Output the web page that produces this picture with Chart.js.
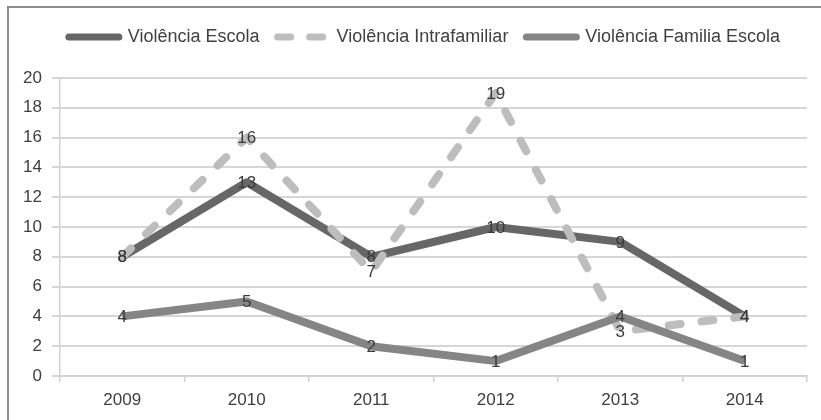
<!DOCTYPE html>
<html>
<head>
<meta charset="utf-8">
<script src="https://cdn.jsdelivr.net/npm/chart.js@4"></script>
<style>
  html, body { margin: 0; padding: 0; background: #fff; }
  #wrap { position: relative; width: 821px; height: 420px; }
</style>
</head>
<body>
<div id="wrap"><canvas id="chart" width="821" height="420"></canvas></div>
<script>
// Data
const years = ['2009', '2010', '2011', '2012', '2013', '2014'];
const violenciaEscola = [8, 13, 8, 10, 9, 4];
const violenciaIntrafamiliar = [8, 16, 7, 19, 3, 4];
const violenciaFamiliaEscola = [4, 5, 2, 1, 4, 1];
const yTicks = [0, 2, 4, 6, 8, 10, 12, 14, 16, 18, 20];

const FONT = '"Liberation Sans", Arial, sans-serif';

// outer frame (left + top edge only visible)
const framePlugin = {
    id: 'frame',
    beforeDraw(chart) {
        const ctx = chart.ctx;
        ctx.save();
        ctx.strokeStyle = '#8c8c8c';
        ctx.lineWidth = 2;
        ctx.beginPath();
        ctx.moveTo(8, 420);
        ctx.lineTo(8, 7);
        ctx.lineTo(821, 7);
        ctx.stroke();
        ctx.restore();
    }
};

// numbers written on each point
const valueLabels = {
    id: 'valueLabels',
    afterDatasetsDraw(chart) {
        const ctx = chart.ctx;
        ctx.save();
        ctx.font = '17px ' + FONT;
        ctx.fillStyle = '#3a3a3a';
        ctx.textAlign = 'center';
        ctx.textBaseline = 'middle';
        chart.data.datasets.forEach((ds, i) => {
            chart.getDatasetMeta(i).data.forEach((pt, j) => {
                ctx.fillText(ds.data[j], pt.x, pt.y + 1);
            });
        });
        ctx.restore();
    }
};

// fixed legend height so the plot starts where the reference does,
// and nudge the legend row a bit to the right
const legendBox = {
    id: 'legendBox',
    beforeInit(chart) {
        const fit = chart.legend.fit;
        chart.legend.fit = function () {
            fit.call(this);
            this.height = 68;
        };
    },
    afterLayout(chart) {
        chart.legend.left += 42;
    }
};

function lineSet(label, data, color, order, dash) {
    return {
        label: label,
        data: data,
        borderColor: color,
        backgroundColor: color,
        borderWidth: 8,
        borderDash: dash || [],
        borderCapStyle: dash ? 'round' : 'butt',
        borderJoinStyle: 'round',
        tension: 0,
        pointRadius: 0,
        order: order
    };
}

new Chart(document.getElementById('chart'), {
    type: 'line',
    data: {
        labels: years,
        datasets: [
            lineSet('Violência Escola', violenciaEscola, '#676767', 3),
            lineSet('Violência Intrafamiliar', violenciaIntrafamiliar, '#bdbdbd', 2, [12, 21]),
            lineSet('Violência Familia Escola', violenciaFamiliaEscola, '#858585', 1)
        ]
    },
    options: {
        responsive: false,
        animation: false,
        layout: { padding: { top: 10, right: 14, left: 0, bottom: 0 } },
        plugins: {
            legend: {
                display: true,
                position: 'top',
                labels: {
                    usePointStyle: true,
                    pointStyle: 'line',
                    pointStyleWidth: 50,
                    padding: 18,
                    color: '#404040',
                    font: { family: FONT, size: 18 },
                    sort: (a, b) => a.datasetIndex - b.datasetIndex,
                    generateLabels(chart) {
                        const items = Chart.defaults.plugins.legend.labels.generateLabels(chart);
                        items.forEach(it => {
                            const ds = chart.data.datasets[it.datasetIndex];
                            it.strokeStyle = ds.borderColor;
                            it.lineWidth = 7;
                            it.lineCap = 'round';
                            it.lineDash = ds.borderDash.length ? [13, 19] : [];
                            it.pointStyle = 'line';
                        });
                        return items;
                    }
                }
            },
            tooltip: { enabled: false }
        },
        scales: {
            x: {
                offset: true,
                grid: {
                    offset: true,
                    drawOnChartArea: false,
                    drawTicks: true,
                    tickLength: 6,
                    color: '#d0d0d0',
                    lineWidth: 1.5
                },
                border: { color: '#d0d0d0', width: 1.5 },
                ticks: {
                    color: '#404040',
                    font: { family: FONT, size: 17 },
                    padding: 8
                },
                afterFit(scale) { scale.height = 44; }
            },
            y: {
                min: 0,
                max: 20,
                afterBuildTicks(scale) { scale.ticks = yTicks.map(v => ({ value: v })); },
                grid: {
                    color: '#d6d6d6',
                    lineWidth: 2,
                    tickLength: 8
                },
                border: { color: '#d0d0d0', width: 1.5 },
                ticks: {
                    color: '#404040',
                    font: { family: FONT, size: 17 },
                    padding: 10
                },
                afterFit(scale) { scale.width = 60; }
            }
        }
    },
    plugins: [framePlugin, legendBox, valueLabels]
});
</script>
</body>
</html>
